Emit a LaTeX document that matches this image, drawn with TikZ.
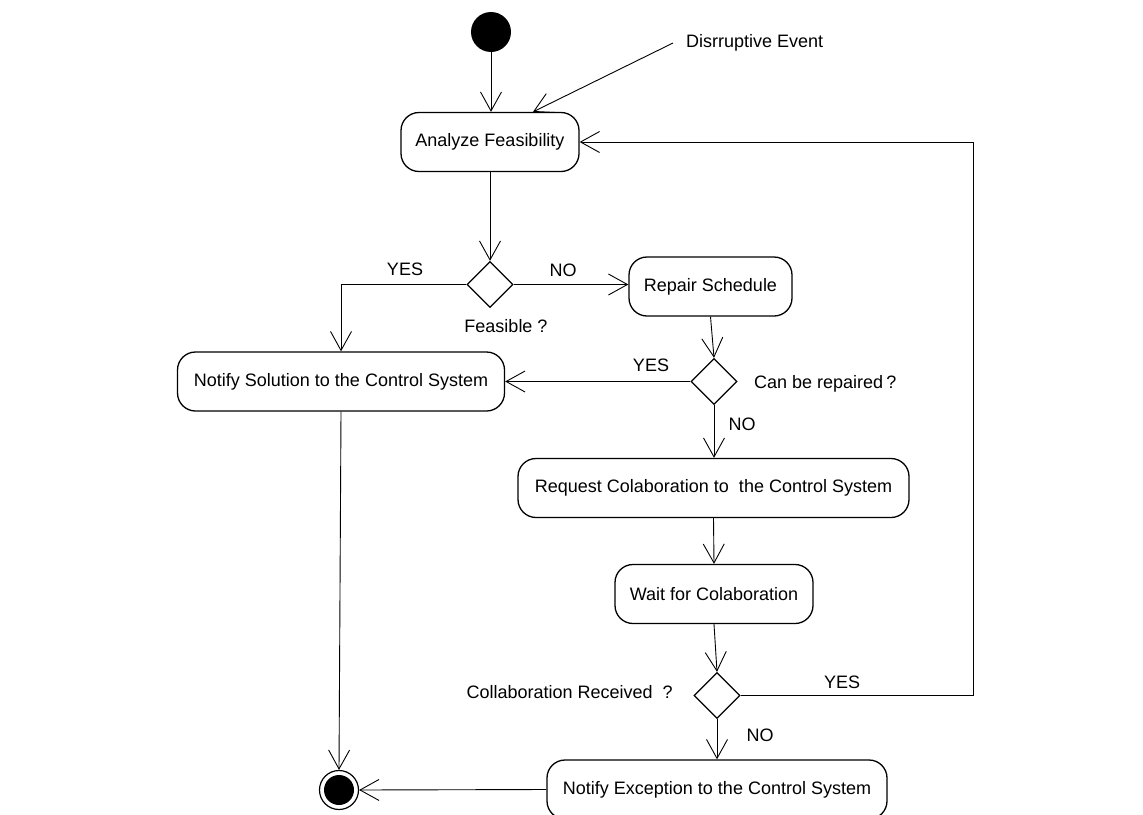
\documentclass[tikz,border=0pt]{standalone}
\usepackage{fontspec}
\setmainfont{Liberation Sans}
\usetikzlibrary{arrows.meta,shapes.geometric}

\tikzset{
  txt/.style={font=\fontsize{18}{22}\selectfont, inner sep=0pt},
  activity/.style={txt, draw, line width=1.3pt, rounded corners=18pt,
    minimum height=59pt, align=center},
  decision/.style={draw, line width=1.3pt, diamond, aspect=1,
    minimum size=46pt, inner sep=0pt},
  flow/.style={line width=0.9pt, -{Straight Barb[length=19pt,width=21pt,line width=0.9pt]}},
}

\begin{document}
\begin{tikzpicture}[x=1pt,y=-1pt]
  \useasboundingbox (0,0) rectangle (1143,814);

  % start and end states
  \node (init) [circle, fill=black, minimum size=40pt, inner sep=0pt] at (491,32) {};
  \node (final) [circle, draw, line width=1.2pt, minimum size=39pt, inner sep=0pt] at (339,790) {};
  \fill (final.center) circle (15pt);

  % activities
  \node (analyze)   [activity, minimum width=178pt] at (490,142) {Analyze Feasibility};
  \node (repair)    [activity, minimum width=163pt] at (710.5,286.5) {Repair Schedule};
  \node (solution)  [activity, minimum width=327pt] at (341,381.5) {Notify Solution to the Control System};
  \node (request)   [activity, minimum width=391pt] at (713.5,488) {Request Colaboration to\ \ the Control System};
  \node (wait)      [activity, minimum width=198pt] at (714,594) {Wait for Colaboration};
  \node (exception) [activity, minimum width=340pt] at (717,789.5) {Notify Exception to the Control System};

  % decisions
  \node (d1) [decision] at (490,284.5) {};
  \node (d2) [decision] at (714,381.5) {};
  \node (d3) [decision] at (717,695.5) {};

  % event and condition labels
  \node (event) [txt, anchor=west] at (686,43) {Disrruptive Event};
  \coordinate (eventtail) at (673,43);
  \node (feasible) [txt] at (506,326) {Feasible ?};
  \node (canrepair) [txt, anchor=west] at (754,384) {Can be repaired\,?};
  \node (received) [txt, anchor=east] at (673,692) {Collaboration Received\ \ ?};

  % branch labels
  \node (yes1) [txt] at (405,269) {YES};
  \node (no1)  [txt] at (563,270) {NO};
  \node (yes2) [txt] at (651,365) {YES};
  \node (no2)  [txt] at (742,424) {NO};
  \node (yes3) [txt] at (842,682) {YES};
  \node (no3)  [txt] at (760,735) {NO};

  % flows
  \draw[flow] (init.south) -- (analyze.north -| init.south);
  \draw[flow] (eventtail) -- ([xshift=43pt]analyze.north);
  \draw[flow] (analyze.south) -- (d1.north);
  \draw[flow] (d1.west) -| (solution.north);
  \draw[flow] (d1.east) -- (d1.east -| repair.west);
  \draw[flow] (repair.south) -- (d2.north);
  \draw[flow] (d2.west) -- (d2.west -| solution.east);
  \draw[flow] (d2.south) -- (request.north -| d2.south);
  \draw[flow] (request.south) -- (wait.north);
  \draw[flow] (wait.south) -- (d3.north);
  \coordinate (loop) at (973,695.5);
  \draw[flow] (d3.east) -- (loop) |- (analyze.east);
  \draw[flow] (d3.south) -- (exception.north -| d3.south);
  \draw[flow] (solution.south) -- (final.north);
  \draw[flow] (exception.west) -- (final.east);
\end{tikzpicture}
\end{document}
